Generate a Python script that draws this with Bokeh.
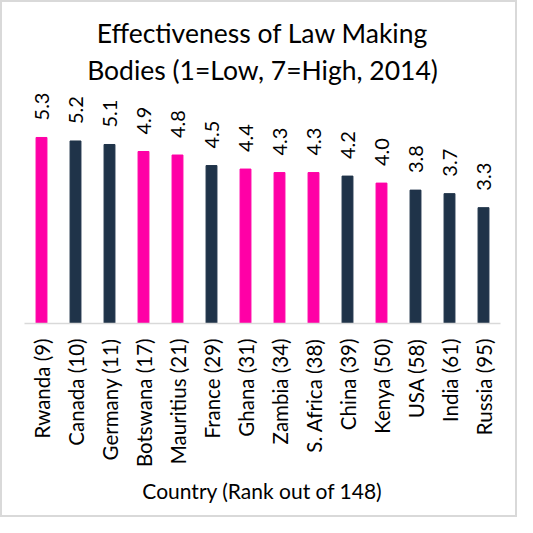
import math
from bokeh.plotting import figure
from bokeh.models import ColumnDataSource, Range1d, Label
from bokeh.embed import file_html
from bokeh.resources import INLINE
from bokeh.core.properties import value

title_lines = ["Effectiveness of Law Making", "Bodies (1=Low, 7=High, 2014)"]
x_title = "Country (Rank out of 148)"
countries = ["Rwanda (9)", "Canada (10)", "Germany (11)", "Botswana (17)",
             "Mauritius (21)", "France (29)", "Ghana (31)", "Zambia (34)",
             "S. Africa (38)", "China (39)", "Kenya (50)", "USA (58)",
             "India (61)", "Russia (95)"]
scores = [5.3, 5.2, 5.1, 4.9, 4.8, 4.5, 4.4, 4.3, 4.3, 4.2, 4.0, 3.8, 3.7, 3.3]
is_africa = [True, False, False, True, True, False, True, True, True, False,
             True, False, False, False]

PINK = "#FF00A6"
NAVY = "#1F3349"
FONT = "Lato"

FRAME_W = 476
FRAME_H = 321
PX_PER_UNIT = 35.1

source = ColumnDataSource(dict(
    country=countries,
    score=scores,
    label=[f"{s:.1f}" for s in scores],
    color=[PINK if a else NAVY for a in is_africa],
))

p = figure(x_range=countries, y_range=Range1d(0, FRAME_H / PX_PER_UNIT),
           frame_width=FRAME_W, frame_height=FRAME_H,
           min_border_left=22, min_border_right=15,
           min_border_top=0, min_border_bottom=192,
           output_backend="svg", toolbar_location=None)
p.styles = {"border": "2px solid #d9d9d9"}

p.vbar(x="country", top="score", width=0.32, color="color", source=source)
p.text(x="country", y="score", text="label", source=source,
       angle=math.pi / 2, text_align="left", text_baseline="middle",
       y_offset=-17, text_font=value(FONT), text_font_size="20px",
       text_color="#000000")

for line, sy in zip(title_lines, [291, 254]):
    p.add_layout(Label(x=FRAME_W / 2, y=sy, x_units="screen", y_units="screen",
                       text=line, text_align="center", text_baseline="middle",
                       text_font=FONT, text_font_size="26.5px",
                       text_color="#000000"))

p.yaxis.visible = False
p.xgrid.grid_line_color = None
p.ygrid.grid_line_color = None
p.outline_line_color = None

ax = p.xaxis[0]
ax.axis_line_color = "#d9d9d9"
ax.axis_line_width = 1.5
ax.major_tick_line_color = None
ax.minor_tick_line_color = None
ax.major_tick_out = 0
ax.major_tick_in = 0
ax.major_label_orientation = math.pi / 2
ax.major_label_standoff = 15
ax.major_label_text_font = FONT
ax.major_label_text_font_size = "20.5px"
ax.major_label_text_color = "#000000"
ax.axis_label = x_title
ax.axis_label_text_font = FONT
ax.axis_label_text_font_style = "normal"
ax.axis_label_text_font_size = "21px"
ax.axis_label_text_color = "#000000"
ax.axis_label_standoff = 8

open("out.html", "w").write(file_html(p, INLINE))
